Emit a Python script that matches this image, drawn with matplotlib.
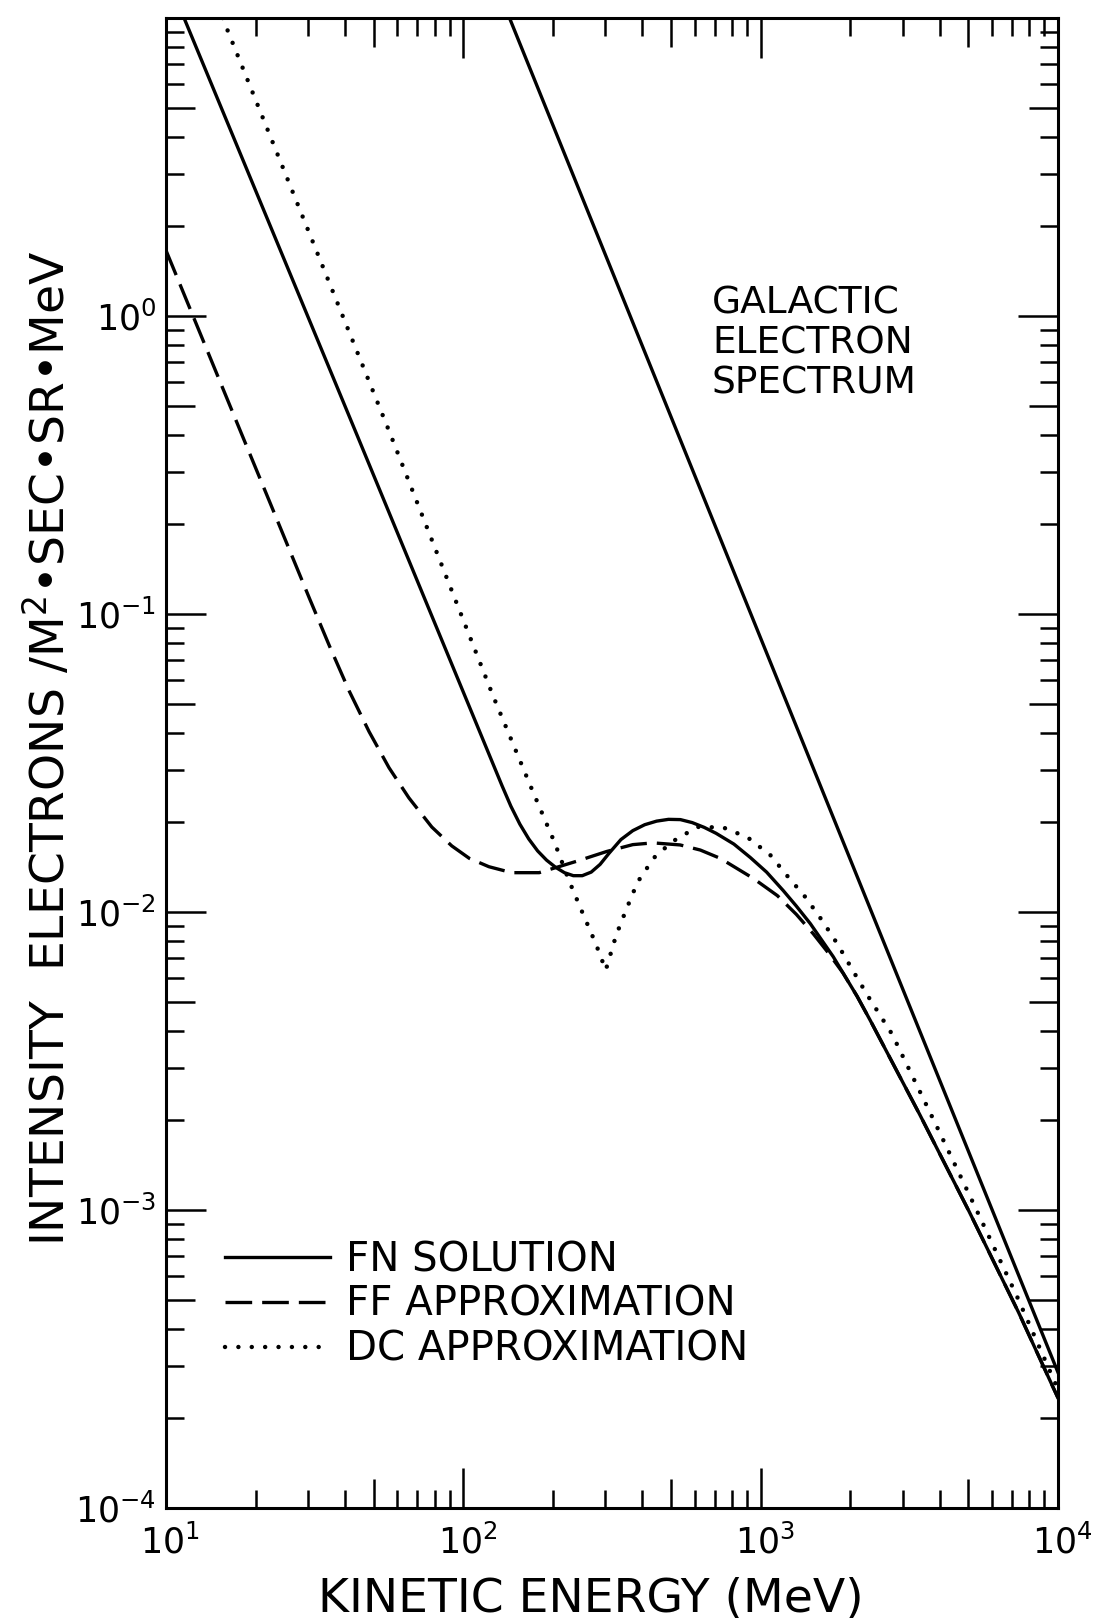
import matplotlib
matplotlib.use('Agg')
import matplotlib.pyplot as plt
from matplotlib.ticker import LogLocator, FixedLocator, NullLocator, NullFormatter
from matplotlib.transforms import ScaledTranslation

# galactic electron spectrum, a straight power law
galactic_energy = [143, 10000]
galactic_flux = [10.0, 2.85e-4]

# FN solution
fn_energy = [11.5, 44.2, 75.7, 110.9, 134.9, 144.5, 154.9, 166.0, 177.8, 190.5, 204.2,
             218.8, 234.4, 251.2, 269.2, 288.4, 309.0, 338.8, 371.5, 407.4, 446.7,
             489.8, 537.0, 588.8, 645.7, 707.9, 812.8, 922.6, 1047, 1191, 1318, 1469,
             1754, 2109, 2333, 3428, 5023, 7379, 10000]
fn_flux = [10.0, 0.392, 0.107, 0.0426, 0.02655, 0.02265, 0.01972, 0.01758, 0.01603,
           0.01493, 0.01413, 0.01355, 0.01324, 0.01324, 0.01361, 0.01445, 0.01574,
           0.01750, 0.01875, 0.01963, 0.02018, 0.02046, 0.02042, 0.01995, 0.01923,
           0.01837, 0.01690, 0.01524, 0.01361, 0.01180, 0.01047, 0.00914, 0.00708,
           0.00522, 0.00434, 0.00209, 9.89e-4, 4.52e-4, 2.34e-4]

# FF approximation
ff_energy = [10, 18.03, 22.39, 30.41, 35.48, 41.30, 48.19, 56.23, 65.61, 78.34, 91.41,
             104.7, 121.9, 145.5, 179.9, 239.9, 303.4, 371.5, 434.5, 535.8, 626.6,
             731.1, 944.1, 1138, 1318, 1503, 1698, 1892, 2109, 2333, 3428, 5023, 7379,
             10000]
ff_flux = [1.66, 0.398, 0.236, 0.1125, 0.0780, 0.0552, 0.0403, 0.0305, 0.02415, 0.01928,
           0.01667, 0.01514, 0.01419, 0.01355, 0.01355, 0.01479, 0.01596, 0.01683,
           0.01706, 0.01679, 0.01614, 0.01514, 0.01297, 0.01135, 0.00982, 0.00845,
           0.00724, 0.00624, 0.00522, 0.00434, 0.00209, 9.89e-4, 4.52e-4, 2.34e-4]

# DC approximation
dc_energy = [15.5, 56.5, 125.9, 169.8, 202.3, 227, 248.9, 279.3, 301.3, 326.6, 353.2,
             385.5, 437.5, 503.5, 612.4, 749.9, 903.6, 1079, 1230, 1416, 1611, 1811,
             2046, 2296, 2767, 3908, 5309, 7278, 10000]
dc_flux = [10.0, 0.407, 0.0531, 0.0259, 0.0172, 0.0127, 0.0102, 0.0078, 0.00638,
           0.00836, 0.0102, 0.0126, 0.0152, 0.0172, 0.0193, 0.0192, 0.0178, 0.0155,
           0.0132, 0.0112, 0.00935, 0.00782, 0.00634, 0.00522, 0.00389, 0.00191,
           0.001005, 5.13e-4, 2.5e-4]

y_major = [1e-4, 1e-3, 1e-2, 1e-1, 1, 10]
y_labels = [r'$10^{-4}$', r'$10^{-3}$', r'$10^{-2}$', r'$10^{-1}$', r'$10^{0}$', '']
five_x = [50, 500, 5000]
five_y = [5e-4, 5e-3, 5e-2, 0.5, 5]

W, H = 1097, 1618
fig = plt.figure(figsize=(W / 100, H / 100), dpi=100)
ax = fig.add_axes([166 / W, 1 - 1508 / H, 892 / W, 1490 / H])
ax.set_xscale('log')
ax.set_yscale('log')
ax.set_xlim(10, 1e4)
ax.set_ylim(1e-4, 10)

lw = 2.4
ax.plot(galactic_energy, galactic_flux, color='black', lw=lw)
ax.plot(fn_energy, fn_flux, color='black', lw=lw, solid_joinstyle='round',
        label='FN SOLUTION')
ax.plot(ff_energy, ff_flux, color='black', lw=lw, linestyle=(0, (8.0, 3.0)),
        label='FF APPROXIMATION')
ax.plot(dc_energy, dc_flux, color='black', lw=3.2, linestyle=(0, (0.01, 3.0)),
        dash_capstyle='round', label='DC APPROXIMATION')

for spine in ax.spines.values():
    spine.set_linewidth(2.2)

ax.xaxis.set_major_locator(LogLocator(base=10, numticks=10))
ax.set_yticks(y_major, labels=y_labels)
for axis in (ax.xaxis, ax.yaxis):
    axis.set_minor_locator(LogLocator(base=10, subs=(2, 3, 4, 6, 7, 8, 9), numticks=20))
    axis.set_minor_formatter(NullFormatter())

ax.tick_params(which='both', direction='in', top=True, right=True, width=1.8)
ax.tick_params(which='major', length=29, labelsize=25)
ax.tick_params(which='minor', length=13)
ax.tick_params(axis='x', which='major', pad=12)
ax.tick_params(axis='y', which='major', pad=7)

# nudge x labels so the "10" sits on the tick
shift = ScaledTranslation(3 / 72, 0, fig.dpi_scale_trans)
for lab in ax.get_xticklabels():
    lab.set_transform(lab.get_transform() + shift)


# the 5s get a slightly longer tick on every side
def five_ticks(side, values):
    if side in ('top', 'bottom'):
        sec = ax.secondary_xaxis(side)
        axis = sec.xaxis
    else:
        sec = ax.secondary_yaxis(side)
        axis = sec.yaxis
    axis.set_major_locator(FixedLocator(values))
    axis.set_minor_locator(NullLocator())
    axis.set_major_formatter(NullFormatter())
    sec.tick_params(which='major', direction='in', length=21, width=1.8)
    sec.tick_params(which='minor', length=0)
    for s in sec.spines.values():
        s.set_visible(False)


five_ticks('bottom', five_x)
five_ticks('top', five_x)
five_ticks('left', five_y)
five_ticks('right', five_y)

fig.text(49 / W, 1 - 748 / H, 'INTENSITY  ELECTRONS /M$^2$\u2022SEC\u2022SR\u2022MeV',
         rotation=90, ha='center', va='center', fontsize=34)
fig.text(591 / W, 1 - 1611 / H, 'KINETIC ENERGY (MeV)', ha='center', va='baseline',
         fontsize=34)

for i, line in enumerate(['GALACTIC', 'ELECTRON', 'SPECTRUM']):
    fig.text(712 / W, 1 - (313 + 40 * i) / H, line, ha='left', va='baseline', fontsize=27)

ax.legend(loc='center left', bbox_to_anchor=(225 / W, 1 - 1305 / H),
          bbox_transform=fig.transFigure, frameon=False, fontsize=29,
          handlelength=2.6, handletextpad=0.4, labelspacing=0.12,
          borderpad=0, borderaxespad=0)

fig.savefig('out.png', dpi=100)
